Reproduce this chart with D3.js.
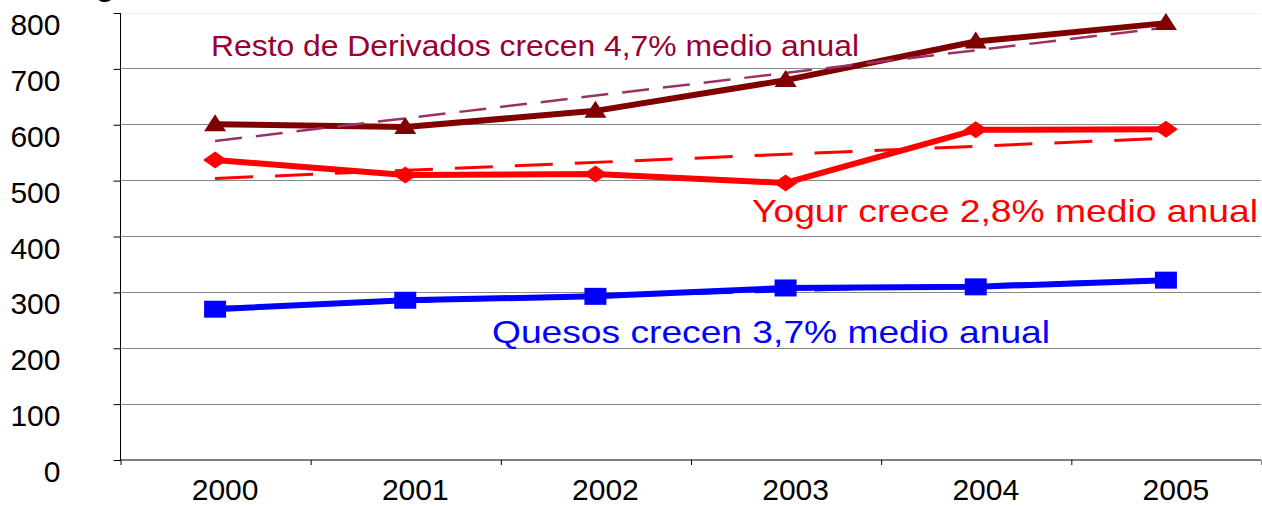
<!DOCTYPE html>
<html>
<head>
<meta charset="utf-8">
<script src="https://cdn.jsdelivr.net/npm/d3@7"></script>
<style>
  body { margin: 0; background: #fff; }
  svg { display: block; font-family: "Liberation Sans", Arial, sans-serif; }
</style>
</head>
<body>
<div id="chart"></div>
<script>
// data
const years = ["2000", "2001", "2002", "2003", "2004", "2005"];
const resto = [600, 595, 624, 679, 748, 781];
const yogur = [536, 509, 511, 495, 590, 591];
const quesos = [269, 285, 292, 307, 309, 321];
// trend lines (value at 2000, value at 2005)
const restoTrend = [570, 773];
const yogurTrend = [503, 575];
const quesosTrend = [272, 322];
const yTicks = [0, 100, 200, 300, 400, 500, 600, 700, 800];

const WIDTH = 1262;
const HEIGHT = 506;
const LEFT = 120;
const RIGHT = 1261;
const TOP = 12.5;
const BOTTOM = 459.5;

const svg = d3.select('#chart')
              .append('svg')
              .attr('width', WIDTH)
              .attr('height', HEIGHT);

const X_SCALE = d3.scaleBand()
                  .domain(years)
                  .range([LEFT, RIGHT])
                  .padding(0);
const Y_SCALE = d3.scaleLinear()
                  .domain([0, 800])
                  .range([BOTTOM, TOP]);
const cx = (d, i) => X_SCALE(years[i]) + X_SCALE.bandwidth() / 2;

// cut-off title fragment at the very top (as in the reference)
svg.append('text')
   .attr('x', 96)
   .attr('y', -4)
   .attr('font-size', 30)
   .attr('font-weight', 'bold')
   .text('g');

// gridlines
svg.append('g')
   .selectAll('line')
   .data(yTicks.filter(d => d > 0))
   .enter()
   .append('line')
   .attr('x1', LEFT)
   .attr('x2', RIGHT)
   .attr('y1', d => Math.round(Y_SCALE(d)) + 0.5)
   .attr('y2', d => Math.round(Y_SCALE(d)) + 0.5)
   .attr('stroke', d => d === 800 ? '#eeeeee' : '#888888')
   .attr('stroke-width', 1);

// y axis
const Y_AXIS = d3.axisLeft(Y_SCALE)
                 .tickValues(yTicks)
                 .tickSize(7)
                 .tickPadding(53);
const yAxis = svg.append('g')
   .attr('transform', 'translate(' + (LEFT + 0.5) + ',0.5)')
   .call(Y_AXIS);
yAxis.select('.domain').attr('stroke', '#000').attr('d', 'M0,' + TOP + 'V' + BOTTOM);
yAxis.selectAll('line').attr('stroke', '#000');
yAxis.selectAll('text')
     .attr('font-size', 30)
     .attr('font-family', '"Liberation Sans", Arial, sans-serif')
     .attr('fill', '#000')
     .attr('dy', '0.32em')
     .attr('transform', 'translate(0,12)');

// x axis: tick marks between categories, labels centred
const X_TICKS = d3.scaleLinear().domain([0, years.length]).range([LEFT, RIGHT]);
const xAxis = svg.append('g')
   .attr('transform', 'translate(0,' + (BOTTOM + 0.5) + ')')
   .call(d3.axisBottom(X_TICKS).ticks(years.length).tickSize(5).tickFormat(''));
xAxis.select('.domain').attr('stroke', '#000').attr('d', 'M' + LEFT + ',0H' + RIGHT);
xAxis.selectAll('line').attr('stroke', '#000').attr('transform', 'translate(0.5,0)');
const xLabels = svg.append('g')
   .attr('transform', 'translate(10,' + BOTTOM + ')')
   .call(d3.axisBottom(X_SCALE).tickSize(0).tickPadding(10));
xLabels.select('.domain').remove();
xLabels.selectAll('text')
       .attr('font-size', 30)
       .attr('font-family', '"Liberation Sans", Arial, sans-serif')
       .attr('fill', '#000')
       .attr('dy', '1.0em');

const line = d3.line()
               .x((d, i) => cx(d, i))
               .y(d => Y_SCALE(d));

const series = [
  { values: resto, color: '#800000', trend: restoTrend, trendColor: '#993366', trendWidth: 2.5, dash: '27,14', marker: 'triangle' },
  { values: yogur, color: '#ff0000', trend: yogurTrend, trendColor: '#ff0000', trendWidth: 3, dash: '38,22', marker: 'diamond' },
  { values: quesos, color: '#0000ff', trend: quesosTrend, trendColor: '#0000ff', trendWidth: 3, dash: '38,22', marker: 'square' }
];

const markerPath = {
  triangle: 'M0,-10L11,7L-11,7Z',
  diamond: 'M0,-8.5L12,0L0,8.5L-12,0Z',
  square: 'M-11,-8.5H11V8.5H-11Z'
};

series.forEach(s => {
  svg.append('path')
     .attr('d', line(s.values))
     .attr('fill', 'none')
     .attr('stroke', s.color)
     .attr('stroke-width', 6)
     .attr('stroke-linejoin', 'round');
});

series.forEach(s => {
  svg.append('line')
     .attr('x1', X_SCALE(years[0]) + X_SCALE.bandwidth() / 2)
     .attr('x2', X_SCALE(years[years.length - 1]) + X_SCALE.bandwidth() / 2)
     .attr('y1', Y_SCALE(s.trend[0]))
     .attr('y2', Y_SCALE(s.trend[1]))
     .attr('stroke', s.trendColor)
     .attr('stroke-width', s.trendWidth)
     .attr('stroke-dasharray', s.dash);
});

series.forEach(s => {
  svg.append('g')
     .selectAll('path')
     .data(s.values)
     .enter()
     .append('path')
     .attr('d', markerPath[s.marker])
     .attr('transform', (d, i) => 'translate(' + cx(d, i) + ',' + Y_SCALE(d) + ')')
     .attr('fill', s.color);
});

// annotations
const notes = [
  { text: 'Resto de Derivados crecen 4,7% medio anual', x: 211, y: 56, len: 648, size: 29, color: '#990033' },
  { text: 'Yogur crece 2,8% medio anual', x: 752, y: 222, len: 506, size: 32, color: '#ff0000' },
  { text: 'Quesos crecen 3,7% medio anual', x: 492, y: 343, len: 558, size: 32, color: '#0000ff' }
];
svg.selectAll('text.note')
   .data(notes)
   .enter()
   .append('text')
   .attr('class', 'note')
   .attr('x', d => d.x)
   .attr('y', d => d.y)
   .attr('font-size', d => d.size)
   .attr('textLength', d => d.len)
   .attr('lengthAdjust', 'spacingAndGlyphs')
   .attr('fill', d => d.color)
   .text(d => d.text);
</script>
</body>
</html>
